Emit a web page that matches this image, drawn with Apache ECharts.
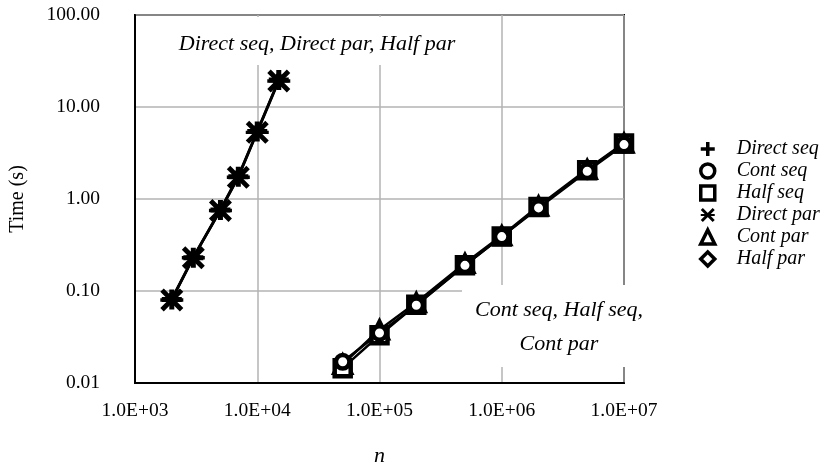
<!DOCTYPE html>
<html><head><meta charset="utf-8">
<script src="https://cdn.jsdelivr.net/npm/echarts@6/dist/echarts.min.js"></script>
<style>html,body{margin:0;padding:0;background:#fff}#c{width:835px;height:469px}</style>
</head><body><div id="c"></div>
<script>
// ---- data ----
const nSmall = [2000, 3000, 5000, 7000, 10000, 15000];
const nLarge = [50000, 100000, 200000, 500000, 1000000, 2000000, 5000000, 10000000];
const directSeq = [0.081, 0.23, 0.76, 1.75, 5.4, 19.6];
const directPar = [0.080, 0.23, 0.75, 1.72, 5.3, 19.2];
const halfPar   = [0.082, 0.235, 0.77, 1.78, 5.5, 19.8];
const contSeq = [0.017, 0.035, 0.070, 0.19, 0.39, 0.80, 2.0, 3.9];
const halfSeq = [0.0145, 0.033, 0.071, 0.19, 0.39, 0.82, 2.05, 4.0];
const contPar = [0.016, 0.038, 0.075, 0.20, 0.40, 0.84, 2.1, 4.05];
const seriesNames = ['Direct seq', 'Cont seq', 'Half seq', 'Direct par', 'Cont par', 'Half par'];
const xTicks = [1e3, 1e4, 1e5, 1e6, 1e7];
const xTickLabels = ['1.0E+03', '1.0E+04', '1.0E+05', '1.0E+06', '1.0E+07'];
const yTicks = [0.01, 0.1, 1, 10, 100];
const yTickLabels = ['0.01', '0.10', '1.00', '10.00', '100.00'];
const xName = 'n';
const yName = 'Time (s)';
const noteLeft = 'Direct seq, Direct par, Half par';
const noteRight = ['Cont seq, Half seq,', 'Cont par'];

// ---- styling ----
const FONT = '"Liberation Serif", "Times New Roman", serif';
const plusPath = 'path://M7.5,0 L12.5,0 L12.5,7.5 L20,7.5 L20,12.5 L12.5,12.5 L12.5,20 L7.5,20 L7.5,12.5 L0,12.5 L0,7.5 L7.5,7.5 Z';
const xPath = 'path://M0,3 L3,0 L20,17 L17,20 Z M17,0 L20,3 L3,20 L0,17 Z M0,8.5 L20,8.5 L20,11.5 L0,11.5 Z';
const outlined = { color: '#fff', borderColor: '#000', borderWidth: 4.5 };
const solid = { color: '#000', borderWidth: 0 };
const legendOutlined = { color: '#fff', borderColor: '#000', borderWidth: 3.5 };
const pairs = (xs, ys) => xs.map((x, i) => [x, ys[i]]);
const labelFor = (ticks, labels) => v => {
  const i = ticks.findIndex(t => Math.abs(Math.log10(t) - Math.log10(v)) < 1e-6);
  return i >= 0 ? labels[i] : '';
};

function mk(name, xs, ys, symbol, size, style) {
  return {
    name, type: 'line', data: pairs(xs, ys),
    symbol, symbolSize: size, showSymbol: true,
    itemStyle: style,
    lineStyle: { color: '#000', width: 2.5 },
    emphasis: { disabled: true },
    animation: false
  };
}

const chart = echarts.init(document.getElementById('c'), null, { renderer: 'canvas' });
chart.setOption({
  animation: false,
  backgroundColor: '#fff',
  grid: {
    left: 135, right: 211, top: 15, bottom: 86,
    show: true, borderColor: '#000', borderWidth: 2, backgroundColor: 'transparent',
    containLabel: false, outerBoundsMode: 'none'
  },
  xAxis: {
    type: 'log', logBase: 10, min: xTicks[0], max: xTicks[xTicks.length - 1],
    name: xName, nameLocation: 'middle', nameGap: 62,
    nameTextStyle: { fontFamily: FONT, fontStyle: 'italic', fontSize: 22, color: '#000' },
    axisLine: { show: true, lineStyle: { color: '#000', width: 2 } },
    axisTick: { show: false },
    axisLabel: { formatter: labelFor(xTicks, xTickLabels), fontFamily: FONT, fontSize: 19.5, color: '#000', margin: 18, showMinLabel: true, showMaxLabel: true, hideOverlap: false },
    splitLine: { show: true, lineStyle: { color: '#b3b3b3', width: 1.5 } },
    minorTick: { show: false }
  },
  yAxis: {
    type: 'log', logBase: 10, min: yTicks[0], max: yTicks[yTicks.length - 1],
    name: yName, nameLocation: 'middle', nameGap: 107,
    nameTextStyle: { fontFamily: FONT, fontSize: 20, color: '#000' },
    axisLine: { show: true, lineStyle: { color: '#000', width: 2 } },
    axisTick: { show: false },
    axisLabel: { formatter: labelFor(yTicks, yTickLabels), fontFamily: FONT, fontSize: 19.5, color: '#000', margin: 35, showMinLabel: true, showMaxLabel: true, hideOverlap: false },
    splitLine: { show: true, lineStyle: { color: '#b3b3b3', width: 1.5 } }
  },
  legend: {
    orient: 'vertical', left: 699, top: 138, padding: 0,
    itemWidth: 14, itemHeight: 14, itemGap: 0,
    selectedMode: false,
    textStyle: { fontFamily: FONT, fontStyle: 'italic', fontSize: 20, color: '#000', lineHeight: 22, padding: [0, 0, 0, 17] },
    data: [
      { name: seriesNames[0], icon: plusPath, itemStyle: solid },
      { name: seriesNames[1], icon: 'circle', itemStyle: legendOutlined },
      { name: seriesNames[2], icon: 'rect', itemStyle: legendOutlined },
      { name: seriesNames[3], icon: xPath, itemStyle: solid },
      { name: seriesNames[4], icon: 'triangle', itemStyle: legendOutlined },
      { name: seriesNames[5], icon: 'diamond', itemStyle: legendOutlined }
    ]
  },
  graphic: [
    {
      type: 'group', z: 50,
      children: [
        { type: 'rect', shape: { x: 165, y: 17, width: 305, height: 48 }, style: { fill: '#fff' }, z: 50 },
        { type: 'text', x: 317, y: 44, z: 51, style: { text: noteLeft, align: 'center', verticalAlign: 'middle', font: 'italic 22px ' + FONT, fill: '#000' } },
        { type: 'rect', shape: { x: 462, y: 285, width: 190, height: 82 }, style: { fill: '#fff' }, z: 50 },
        { type: 'text', x: 559, y: 327, z: 51, style: { text: noteRight.join('\n'), align: 'center', verticalAlign: 'middle', lineHeight: 34, font: 'italic 22px ' + FONT, fill: '#000' } }
      ]
    }
  ],
  series: [
    mk(seriesNames[5], nSmall, halfPar, 'diamond', 12, { color: '#fff', borderColor: '#000', borderWidth: 3 }),
    mk(seriesNames[0], nSmall, directSeq, plusPath, 20, solid),
    mk(seriesNames[3], nSmall, directPar, xPath, 23, solid),
    mk(seriesNames[4], nLarge, contPar, 'triangle', 18, { color: '#fff', borderColor: '#000', borderWidth: 3.5 }),
    mk(seriesNames[2], nLarge, halfSeq, 'rect', 16, outlined),
    mk(seriesNames[1], nLarge, contSeq, 'circle', 13.5, outlined)
  ]
});
</script></body></html>
